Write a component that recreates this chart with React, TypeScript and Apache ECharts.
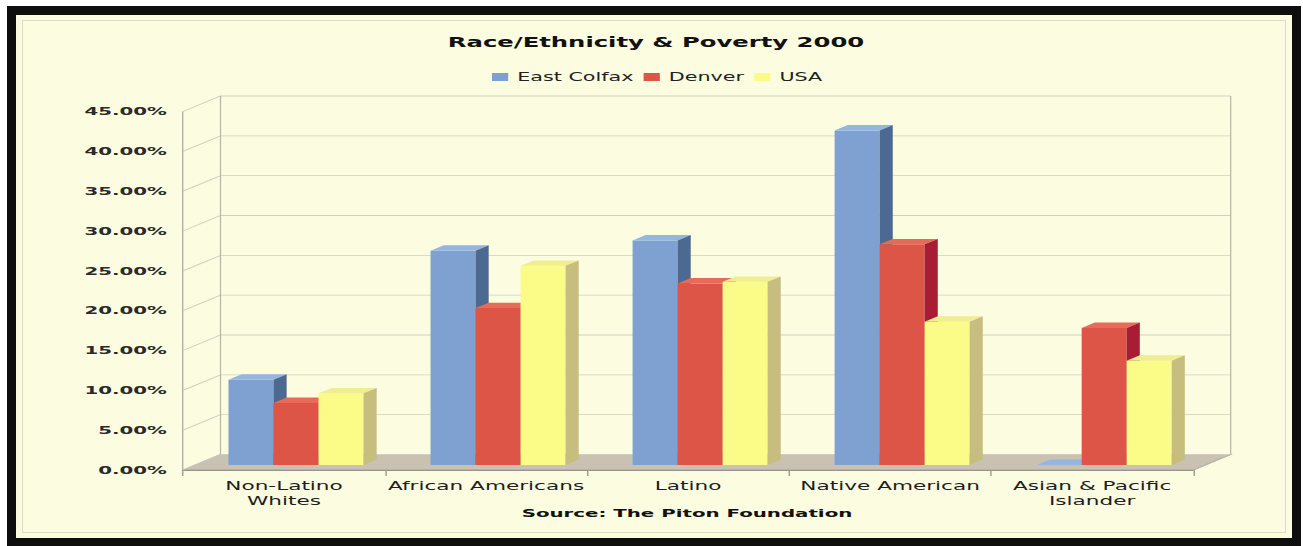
import React, { useEffect, useRef } from "react";
import * as echarts from "echarts";

// ---- data ----
const categories = [
  "Non-Latino\nWhites",
  "African Americans",
  "Latino",
  "Native American",
  "Asian & Pacific\nIslander",
];
const seriesNames = ["East Colfax", "Denver", "USA"];
const eastColfax = [10.7, 26.9, 28.2, 42.0, 0];
const denver = [7.8, 19.7, 22.8, 27.7, 17.2];
const usa = [9.0, 25.0, 23.0, 18.0, 13.1];
const yTickValues = [0, 5, 10, 15, 20, 25, 30, 35, 40, 45];
const titleText = "Race/Ethnicity & Poverty 2000";
const sourceText = "Source: The Piton Foundation";

// ---- layout / style ----
const PAGE_W = 1303;
const PAGE_H = 546;
const S = 1.8; // horizontal stretch of the original picture
const W = PAGE_W / S;
const DX = 37.5 / S; // depth offset (x) of the 3D box
const DY = -15.5; // depth offset (y)
const F0 = 0.32; // depth of bar front face
const BD = 0.35; // bar depth fraction
const BAR_FRAC = 45 / 202;
const FONT = "DejaVu Sans, Verdana, sans-serif";

const FACE = [
  { front: "#7ea1d2", top: "#96b6df", side: "#4c6a91" },
  { front: "#dc5546", top: "#e66b59", side: "#a81d35" },
  { front: "#fbfb88", top: "#eeee93", side: "#c6bd7e" },
];

const makeBarSeries = (name: string, values: number[], s: number) => ({
  type: "custom",
  name,
  z: 3 + s,
  clip: false,
  itemStyle: { color: FACE[s].front },
  encode: { x: 0, y: 1 },
  data: values.map((v, i) => [i, v]),
  renderItem: (_params: any, api: any) => {
    const ci = api.value(0);
    const v = api.value(1);
    const base = api.coord([ci, 0]);
    const top = api.coord([ci, v]);
    const catW = api.size([1, 0])[0];
    const bw = catW * BAR_FRAC;
    const x0 = base[0] - 1.5 * bw + s * bw + DX * F0;
    const x1 = x0 + bw;
    const yb = base[1] + DY * F0;
    const yt = top[1] + DY * F0;
    const ddx = DX * BD;
    const ddy = DY * BD;
    return {
      type: "group",
      children: [
        {
          type: "rect",
          shape: { x: x0, y: yt, width: bw, height: Math.max(0, yb - yt) },
          style: { fill: FACE[s].front },
        },
        {
          type: "polygon",
          shape: { points: [[x0, yt], [x1, yt], [x1 + ddx, yt + ddy], [x0 + ddx, yt + ddy]] },
          style: { fill: FACE[s].top },
        },
        {
          type: "polygon",
          shape: { points: [[x1, yt], [x1 + ddx, yt + ddy], [x1 + ddx, yb + ddy], [x1, yb]] },
          style: { fill: FACE[s].side },
        },
      ],
    };
  },
});

const wallsSeries = {
  type: "custom",
  name: "walls",
  z: 1,
  clip: false,
  silent: true,
  encode: { x: 0, y: 1 },
  data: [[0, 0]],
  renderItem: (_params: any, api: any) => {
    const p0 = api.coord([0, 0]);
    const catW = api.size([1, 0])[0];
    const xL = p0[0] - catW / 2;
    const xR = api.coord([categories.length - 1, 0])[0] + catW / 2;
    const yB = p0[1];
    const yT = api.coord([0, yTickValues[yTickValues.length - 1]])[1];
    const gridColor = "#cfcfbf";
    const children: any[] = [];
    children.push({
      type: "polygon",
      shape: { points: [[xL, yB], [xR, yB], [xR + DX, yB + DY], [xL + DX, yB + DY]] },
      style: { fill: "#c9c1b2", stroke: "#a8a296", lineWidth: 0.8 },
    });
    yTickValues.forEach((t) => {
      const y = api.coord([0, t])[1];
      children.push({
        type: "polyline",
        shape: { points: [[xL, y], [xL + DX, y + DY], [xR + DX, y + DY]] },
        style: { stroke: gridColor, lineWidth: 0.9, fill: null },
      });
    });
    children.push({
      type: "polyline",
      shape: { points: [[xL + DX, yB + DY], [xL + DX, yT + DY]] },
      style: { stroke: "#b8b8aa", lineWidth: 0.7, fill: null },
    });
    children.push({
      type: "polyline",
      shape: { points: [[xR + DX, yT + DY], [xR + DX, yB + DY], [xR, yB]] },
      style: { stroke: "#b8b8aa", lineWidth: 0.7, fill: null },
    });
    return { type: "group", children };
  },
};

export default function App() {
  const ref = useRef<HTMLDivElement>(null);

  useEffect(() => {
    if (!ref.current) return;
    const chart = echarts.init(ref.current, undefined, { renderer: "svg" });
    chart.setOption({
      animation: false,
      textStyle: { fontFamily: FONT },
      title: [
        {
          text: titleText,
          left: 656 / S,
          textAlign: "center",
          top: 35,
          padding: 0,
          textStyle: { fontFamily: FONT, fontSize: 13.5, fontWeight: "bold", color: "#111", lineHeight: 16 },
        },
        {
          text: sourceText,
          left: 687 / S,
          textAlign: "center",
          top: 505,
          padding: 0,
          textStyle: { fontFamily: FONT, fontSize: 11, fontWeight: "bold", color: "#111", lineHeight: 16 },
        },
      ],
      legend: {
        data: seriesNames,
        icon: "rect",
        itemWidth: 9,
        itemHeight: 8,
        itemGap: 5.6,
        left: 492 / S,
        top: 70,
        padding: 0,
        textStyle: { fontFamily: FONT, fontSize: 11.5, color: "#222", lineHeight: 14 },
      },
      grid: {
        left: 183 / S,
        right: (PAGE_W - 1193) / S,
        top: 111.5,
        bottom: PAGE_H - 470,
      },
      xAxis: {
        type: "category",
        data: categories,
        boundaryGap: true,
        axisLine: { show: true, lineStyle: { color: "#8c887e", width: 1 } },
        axisTick: { show: true, length: 6, lineStyle: { color: "#a09c92", width: 0.8 } },
        axisLabel: {
          interval: 0,
          margin: 8.5,
          fontFamily: FONT,
          fontSize: 12,
          lineHeight: 15,
          color: "#1e1e1e",
        },
        splitLine: { show: false },
      },
      yAxis: {
        type: "value",
        min: yTickValues[0],
        max: yTickValues[yTickValues.length - 1],
        interval: yTickValues[1] - yTickValues[0],
        axisLine: { show: true, lineStyle: { color: "#a8a89c", width: 0.7 } },
        axisTick: { show: false },
        splitLine: { show: false },
        axisLabel: {
          formatter: (v: number) => v.toFixed(2) + "%",
          fontFamily: FONT,
          fontWeight: "bold",
          fontSize: 11,
          color: "#2a2a2a",
          margin: 9,
        },
      },
      series: [
        wallsSeries,
        makeBarSeries(seriesNames[0], eastColfax, 0),
        makeBarSeries(seriesNames[1], denver, 1),
        makeBarSeries(seriesNames[2], usa, 2),
      ],
    });
    return () => chart.dispose();
  }, []);

  return (
    <div
      style={{
        position: "fixed",
        left: 0,
        top: 0,
        width: PAGE_W,
        height: PAGE_H,
        overflow: "hidden",
        background: "#ffffff",
      }}
    >
      <div
        style={{
          position: "absolute",
          left: 7,
          top: 6,
          width: 1294,
          height: 540,
          boxSizing: "border-box",
          borderStyle: "solid",
          borderColor: "#0e0e0e",
          borderWidth: "9px 9px 8px 9px",
          background: "#fbfce0",
        }}
      />
      <div
        style={{
          position: "absolute",
          left: 22,
          top: 20,
          width: 1264,
          height: 513,
          boxSizing: "border-box",
          border: "1px solid #dcdccc",
        }}
      />
      <div
        ref={ref}
        style={{
          position: "absolute",
          left: 0,
          top: 0,
          width: W,
          height: PAGE_H,
          transform: `scaleX(${S})`,
          transformOrigin: "0 0",
        }}
      />
    </div>
  );
}
